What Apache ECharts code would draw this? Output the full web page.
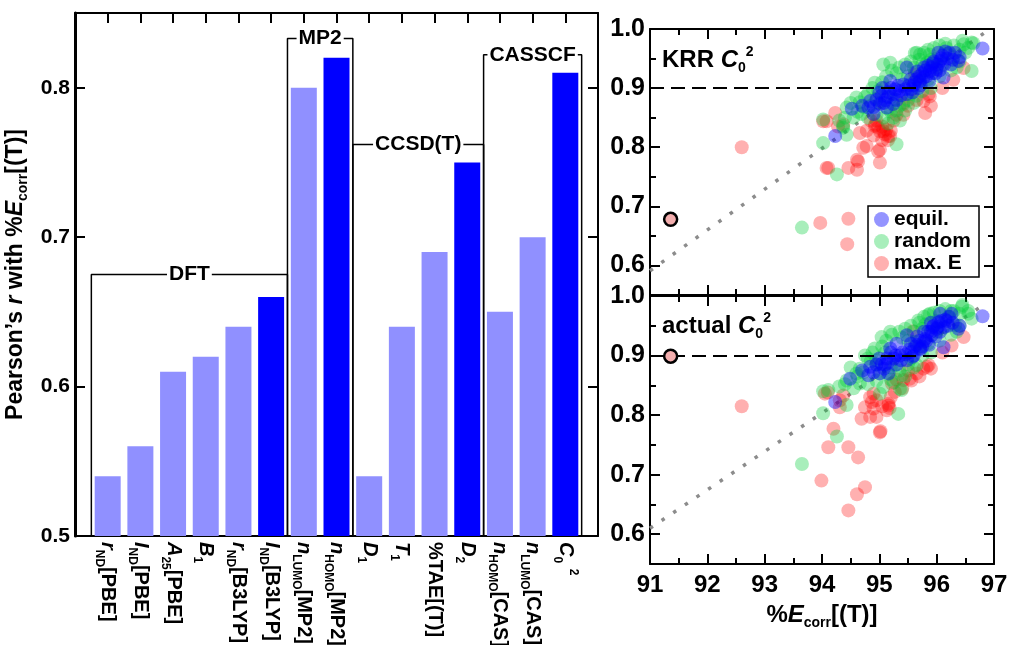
<!DOCTYPE html>
<html>
<head>
<meta charset="utf-8">
<script src="https://cdn.jsdelivr.net/npm/echarts@6/dist/echarts.min.js"></script>
<style>
  html, body { margin: 0; padding: 0; background: #fff; }
  #main { width: 1010px; height: 645px; }
</style>
</head>
<body>
<div id="main"></div>
<script>
var FONT = "'Liberation Sans', Arial, Helvetica, sans-serif";

// ---- left panel: Pearson's r of each descriptor with %Ecorr[(T)]
var barLabels = [
    '{i|r}{s|ND}[PBE]', '{i|I}{s|ND}[PBE]', '{i|A}{s|25}[PBE]', '{i|B}{s|1}',
    '{i|r}{s|ND}[B3LYP]', '{i|I}{s|ND}[B3LYP]', '{i|n}{s|LUMO}[MP2]', '{i|n}{s|HOMO}[MP2]',
    '{i|D}{s|1}', '{i|T}{s|1}', '%TAE[(T)]', '{i|D}{s|2}',
    '{i|n}{s|HOMO}[CAS]', '{i|n}{s|LUMO}[CAS]', '{i|C}{s|0} {p|2}'
];
var barValues = [0.54, 0.56, 0.61, 0.62, 0.64, 0.66, 0.80, 0.82, 0.54, 0.64, 0.69, 0.75, 0.65, 0.70, 0.81];
var bestIdx = [5, 7, 11, 14];          // best descriptor of each method
var barTicks = [0.5, 0.6, 0.7, 0.8];

// method groups (in category slots, slot 0 is empty padding)
var groupNames = ['DFT', 'MP2', 'CCSD(T)', 'CASSCF'];
var groupSpans = [[0.5, 6.5], [6.5, 8.5], [8.5, 12.5], [12.5, 15.5]];
var groupLevels = [0.675, 0.833, 0.762, 0.822];

// ---- right panels: C0^2 vs %Ecorr[(T)]
var corrTicks = [0.6, 0.7, 0.8, 0.9, 1.0];
var corrMinor = [0.65, 0.75, 0.85, 0.95];
var threshold = 0.9;

var krrEquil = [
    [96.80, 0.967], [96.38, 0.946], [96.32, 0.960], [96.03, 0.960], [96.06, 0.946], [96.00, 0.932],
    [95.88, 0.929], [95.77, 0.918], [95.71, 0.912], [96.12, 0.918], [95.56, 0.898], [95.48, 0.890],
    [95.42, 0.906], [95.48, 0.935], [95.33, 0.904], [95.19, 0.912], [95.16, 0.893], [95.04, 0.887],
    [95.01, 0.873], [94.84, 0.878], [94.81, 0.867], [94.52, 0.865], [94.90, 0.856], [95.13, 0.867],
    [95.24, 0.873], [94.23, 0.819], [95.95, 0.945], [95.85, 0.938], [95.92, 0.925], [95.80, 0.930],
    [95.65, 0.915], [95.60, 0.905], [96.10, 0.955], [96.15, 0.962], [95.75, 0.925], [95.68, 0.900],
    [95.35, 0.895], [95.25, 0.890], [95.10, 0.880], [96.25, 0.940], [95.05, 0.900], [96.05, 0.930],
    [94.95, 0.880], [95.00, 0.892], [95.08, 0.875], [95.15, 0.885], [95.20, 0.900], [95.28, 0.898],
    [95.38, 0.888], [95.45, 0.898], [95.52, 0.905], [95.58, 0.893], [95.62, 0.910], [95.70, 0.920],
    [95.72, 0.905], [95.78, 0.935], [95.82, 0.920], [95.87, 0.912], [95.90, 0.935], [95.93, 0.942],
    [95.98, 0.925], [96.02, 0.940], [96.08, 0.950], [96.13, 0.940], [96.18, 0.950], [96.22, 0.960],
    [96.28, 0.948], [96.40, 0.952], [95.55, 0.915], [95.66, 0.928], [95.30, 0.880], [94.90, 0.868],
    [94.70, 0.870]
];
var krrRandom = [
    [95.19, 0.943], [95.07, 0.940], [95.71, 0.957], [95.65, 0.960], [95.88, 0.957], [96.47, 0.974],
    [96.61, 0.977], [96.61, 0.929], [96.29, 0.952], [96.17, 0.968], [95.83, 0.943], [95.62, 0.926],
    [95.65, 0.887], [95.42, 0.873], [95.30, 0.862], [95.27, 0.881], [94.98, 0.895], [94.92, 0.909],
    [94.66, 0.876], [94.60, 0.884], [94.43, 0.867], [94.69, 0.856], [95.36, 0.845], [95.07, 0.850],
    [94.37, 0.833], [94.02, 0.847], [94.37, 0.836], [94.43, 0.821], [94.02, 0.807], [94.26, 0.754],
    [93.65, 0.664], [95.30, 0.805], [96.64, 0.976], [95.62, 0.959], [96.40, 0.965], [96.20, 0.958],
    [96.00, 0.950], [95.90, 0.948], [95.50, 0.920], [95.40, 0.915], [95.55, 0.890], [95.20, 0.885],
    [95.00, 0.875], [94.85, 0.870], [94.75, 0.885], [95.10, 0.900], [95.30, 0.925], [96.35, 0.935],
    [96.50, 0.960], [95.75, 0.940], [95.20, 0.860], [94.55, 0.850], [95.15, 0.840], [96.10, 0.940],
    [94.50, 0.875], [94.62, 0.860], [94.72, 0.868], [94.80, 0.890], [94.88, 0.900], [94.95, 0.882],
    [95.05, 0.910], [95.12, 0.920], [95.22, 0.930], [95.35, 0.935], [95.45, 0.940], [95.55, 0.945],
    [95.60, 0.935], [95.70, 0.948], [95.78, 0.960], [95.85, 0.965], [95.95, 0.968], [96.05, 0.972],
    [96.15, 0.975], [96.30, 0.972], [96.45, 0.980], [96.55, 0.968], [96.40, 0.945], [96.25, 0.930],
    [96.05, 0.920], [95.90, 0.900], [95.75, 0.895], [95.60, 0.875], [95.45, 0.862], [95.35, 0.870],
    [95.25, 0.850], [95.15, 0.865], [94.95, 0.855], [94.80, 0.850], [94.40, 0.850], [94.30, 0.845],
    [95.50, 0.880], [95.70, 0.910], [95.85, 0.915], [96.00, 0.935]
];
var krrMaxE = [
    [92.60, 0.800], [94.23, 0.858], [94.02, 0.844], [94.28, 0.835], [94.11, 0.765], [94.46, 0.765],
    [94.61, 0.779], [94.78, 0.802], [95.01, 0.796], [95.01, 0.774], [95.07, 0.827], [95.19, 0.819],
    [95.62, 0.923], [95.77, 0.878], [95.80, 0.858], [95.88, 0.886], [96.29, 0.914], [96.47, 0.934],
    [95.42, 0.855], [95.42, 0.875], [95.86, 0.890], [94.92, 0.836], [94.98, 0.833], [95.10, 0.822],
    [94.78, 0.828], [94.37, 0.839], [94.93, 0.838], [94.66, 0.824], [94.72, 0.799], [94.98, 0.793],
    [95.16, 0.819], [95.01, 0.827], [94.63, 0.776], [94.61, 0.762], [94.08, 0.765], [93.97, 0.672],
    [94.46, 0.679], [94.44, 0.636], [94.08, 0.844], [95.12, 0.830], [95.05, 0.835], [95.15, 0.812],
    [94.85, 0.845], [95.25, 0.845], [95.30, 0.855], [95.50, 0.870], [95.65, 0.880], [95.90, 0.870],
    [96.10, 0.900], [95.05, 0.812], [94.90, 0.820], [95.20, 0.828], [94.95, 0.845]
];
var actEquil = [
    [96.80, 0.966], [96.38, 0.945], [96.26, 0.970], [96.06, 0.970], [96.03, 0.956], [96.06, 0.940],
    [95.91, 0.934], [95.77, 0.923], [95.71, 0.912], [96.12, 0.914], [95.56, 0.906], [95.48, 0.892],
    [95.36, 0.900], [95.48, 0.934], [95.19, 0.912], [95.13, 0.895], [95.04, 0.886], [95.01, 0.870],
    [94.84, 0.881], [94.81, 0.867], [94.49, 0.861], [95.16, 0.870], [94.23, 0.822], [95.95, 0.950],
    [95.85, 0.940], [95.80, 0.928], [95.65, 0.918], [95.60, 0.900], [96.15, 0.960], [96.00, 0.945],
    [95.75, 0.915], [95.40, 0.905], [95.25, 0.895], [95.10, 0.885], [96.20, 0.950], [95.90, 0.955],
    [95.30, 0.920], [94.95, 0.885], [95.00, 0.895], [95.08, 0.878], [95.15, 0.888], [95.20, 0.905],
    [95.28, 0.900], [95.38, 0.892], [95.45, 0.902], [95.52, 0.910], [95.58, 0.898], [95.62, 0.915],
    [95.70, 0.925], [95.72, 0.910], [95.78, 0.940], [95.82, 0.925], [95.87, 0.918], [95.90, 0.940],
    [95.93, 0.948], [95.98, 0.932], [96.02, 0.948], [96.08, 0.958], [96.13, 0.948], [96.18, 0.958],
    [96.22, 0.965], [96.28, 0.955], [96.40, 0.950], [95.55, 0.920], [95.66, 0.932], [95.30, 0.885],
    [94.90, 0.872], [94.70, 0.875]
];
var actRandom = [
    [95.04, 0.931], [95.19, 0.940], [95.68, 0.959], [95.88, 0.970], [96.44, 0.982], [96.61, 0.962],
    [96.32, 0.951], [95.62, 0.923], [95.65, 0.884], [95.39, 0.867], [95.27, 0.884], [94.95, 0.892],
    [94.92, 0.912], [94.66, 0.878], [94.60, 0.870], [94.43, 0.858], [94.66, 0.853], [95.36, 0.844],
    [95.07, 0.847], [94.02, 0.840], [94.11, 0.842], [94.43, 0.817], [94.02, 0.803], [94.26, 0.764],
    [93.65, 0.718], [95.33, 0.802], [95.39, 0.842], [95.01, 0.836], [96.40, 0.970], [96.20, 0.965],
    [96.00, 0.958], [95.80, 0.952], [95.50, 0.925], [95.40, 0.930], [95.55, 0.895], [95.20, 0.880],
    [95.00, 0.870], [94.85, 0.890], [94.75, 0.900], [95.10, 0.905], [96.35, 0.940], [96.55, 0.975],
    [95.75, 0.945], [95.20, 0.860], [94.55, 0.845], [96.10, 0.945], [96.25, 0.975], [94.50, 0.880],
    [94.62, 0.865], [94.72, 0.872], [94.80, 0.895], [94.88, 0.905], [94.95, 0.885], [95.05, 0.915],
    [95.12, 0.925], [95.22, 0.935], [95.35, 0.940], [95.45, 0.945], [95.55, 0.950], [95.60, 0.940],
    [95.70, 0.955], [95.78, 0.965], [95.85, 0.968], [95.95, 0.972], [96.05, 0.975], [96.15, 0.978],
    [96.30, 0.975], [96.45, 0.985], [96.55, 0.970], [96.40, 0.950], [96.25, 0.935], [96.05, 0.925],
    [95.90, 0.905], [95.75, 0.900], [95.60, 0.880], [95.45, 0.865], [95.35, 0.875], [95.25, 0.855],
    [95.15, 0.868], [94.95, 0.858], [94.80, 0.852], [94.40, 0.852], [94.30, 0.848], [95.50, 0.885],
    [95.70, 0.915], [95.85, 0.920], [96.00, 0.940]
];
var actMaxE = [
    [92.60, 0.815], [94.05, 0.836], [94.31, 0.825], [94.31, 0.813], [94.20, 0.777], [94.11, 0.746],
    [94.46, 0.746], [94.63, 0.729], [93.99, 0.690], [94.75, 0.679], [94.61, 0.667], [94.46, 0.640],
    [94.84, 0.830], [94.75, 0.813], [94.90, 0.811], [94.69, 0.794], [94.84, 0.797], [94.95, 0.797],
    [95.01, 0.771], [95.02, 0.773], [95.16, 0.816], [95.13, 0.808], [95.18, 0.812], [95.27, 0.839],
    [95.53, 0.861], [95.77, 0.878], [95.83, 0.881], [96.26, 0.917], [96.47, 0.931], [95.59, 0.941],
    [95.42, 0.859], [95.22, 0.853], [95.86, 0.884], [95.56, 0.858], [94.90, 0.836], [94.87, 0.822],
    [95.16, 0.819], [94.37, 0.833], [94.10, 0.838], [95.30, 0.860], [95.50, 0.875], [95.65, 0.870],
    [95.90, 0.878], [96.10, 0.905], [95.05, 0.815], [94.95, 0.825], [95.20, 0.830], [95.40, 0.845],
    [95.70, 0.865]
];
var krrRef = [[91.36, 0.678]];
var actRef = [[91.36, 0.899]];
var krrDiag = [[91.0, 0.591], [96.87, 0.996]];
var actDiag = [[91.0, 0.610], [96.80, 0.984]];

var myChart = echarts.init(document.getElementById('main'));

var black = '#000';
var lightBlue = '#9090ff', darkBlue = '#0000ff';
var cEquil = 'rgba(0,0,255,0.42)', cRandom = 'rgba(0,205,55,0.34)', cMaxE = 'rgba(255,0,0,0.31)';

function richSet(size) {
    var sub = Math.round(size * 0.6);
    return {
        i: { fontStyle: 'italic', fontWeight: 'bold', fontSize: size, fontFamily: FONT, color: black },
        s: { fontWeight: 'bold', fontSize: sub, lineHeight: sub + 1, fontFamily: FONT, color: black, verticalAlign: 'bottom' },
        p: { fontWeight: 'bold', fontSize: sub, lineHeight: sub + 1, fontFamily: FONT, color: black, verticalAlign: 'top' }
    };
}

// plain framed axis, ticks pointing into the plot
function frame(o, lineW) {
    var base = {
        axisLine: { show: true, onZero: false, lineStyle: { color: black, width: lineW || 2 } },
        splitLine: { show: false },
        axisTick: { show: true, inside: true, length: 10, lineStyle: { color: black, width: 2 } },
        axisLabel: { show: false }
    };
    return Object.assign(base, o);
}

var catData = [''].concat(barLabels, ['']);
var tickEvery = function (i) { return i > 0 && i < catData.length - 1; };
var minor = { show: true, splitNumber: 2, length: 6, lineStyle: { color: black, width: 2 } };

var xAxes = [
    frame({ type: 'category', gridIndex: 0, data: catData, boundaryGap: false, position: 'bottom',
        axisTick: { show: true, inside: true, length: 10, interval: tickEvery, lineStyle: { color: black, width: 2 } },
        axisLabel: { show: true, interval: 0, rotate: -90, margin: 6, color: black, fontSize: 20,
            fontWeight: 'bold', fontFamily: FONT, lineHeight: 28, rich: richSet(20) } }),
    frame({ type: 'category', gridIndex: 0, data: catData, boundaryGap: false, position: 'top',
        axisTick: { show: true, inside: true, length: 10, interval: tickEvery, lineStyle: { color: black, width: 2 } } }),
    { type: 'value', gridIndex: 0, min: 0, max: catData.length - 1, show: false },
    frame({ type: 'value', gridIndex: 1, min: 91, max: 97, interval: 1, position: 'bottom', minorTick: minor }),
    frame({ type: 'value', gridIndex: 1, min: 91, max: 97, interval: 1, position: 'top', minorTick: minor }),
    frame({ type: 'value', gridIndex: 2, min: 91, max: 97, interval: 1, position: 'bottom', minorTick: minor,
        axisLabel: { show: true, margin: 9, color: black, fontSize: 24, fontWeight: 'bold', fontFamily: FONT },
        name: '%{i|E}{s|corr}[(T)]', nameLocation: 'middle', nameGap: 36,
        nameTextStyle: { color: black, fontSize: 24, fontWeight: 'bold', fontFamily: FONT, lineHeight: 30, rich: richSet(24) } }),
    frame({ type: 'value', gridIndex: 2, min: 91, max: 97, interval: 1, position: 'top', minorTick: minor })
];

function corrAxis(grid, pos, labels) {
    return frame({ type: 'value', gridIndex: grid, min: 0.55, max: 1.0, position: pos,
        axisTick: { show: true, inside: true, length: 10, customValues: corrTicks, lineStyle: { color: black, width: 2 } },
        axisLabel: { show: labels, customValues: corrTicks, margin: 5, color: black, fontSize: 25, fontWeight: 'bold',
            fontFamily: FONT, formatter: function (v) { return v.toFixed(1); } } });
}
function corrMinorAxis(grid, pos) {
    return { type: 'value', gridIndex: grid, min: 0.55, max: 1.0, position: pos,
        axisLine: { show: false }, splitLine: { show: false }, axisLabel: { show: false },
        axisTick: { show: true, inside: true, length: 6, customValues: corrMinor, lineStyle: { color: black, width: 2 } } };
}

var yAxes = [
    frame({ type: 'value', gridIndex: 0, min: 0.5, max: 0.85, position: 'left',
        axisTick: { show: true, inside: true, length: 10, customValues: barTicks, lineStyle: { color: black, width: 2 } },
        axisLabel: { show: true, customValues: barTicks, margin: 5, color: black, fontSize: 21, fontWeight: 'bold',
            fontFamily: FONT, formatter: function (v) { return v.toFixed(1); } },
        name: 'Pearson\u2019s {i|r} with %{i|E}{s|corr}[(T)]', nameLocation: 'middle', nameGap: 40,
        nameTextStyle: { color: black, fontSize: 23, fontWeight: 'bold', fontFamily: FONT, lineHeight: 28, rich: richSet(23) } }, 3),
    frame({ type: 'value', gridIndex: 0, min: 0.5, max: 0.85, position: 'right',
        axisTick: { show: true, inside: true, length: 10, customValues: barTicks, lineStyle: { color: black, width: 2 } } }),
    corrAxis(1, 'left', true), corrAxis(1, 'right', false),
    corrMinorAxis(1, 'left'), corrMinorAxis(1, 'right'),
    corrAxis(2, 'left', true), corrAxis(2, 'right', false),
    corrMinorAxis(2, 'left'), corrMinorAxis(2, 'right')
];

var series = [];

// bars (slot 0 and last slot are empty padding)
series.push({
    type: 'bar', xAxisIndex: 0, yAxisIndex: 0, barWidth: 26, silent: true,
    data: ['-'].concat(barValues.map(function (v, i) {
        return { value: v, itemStyle: { color: bestIdx.indexOf(i) >= 0 ? darkBlue : lightBlue } };
    }), ['-'])
});

// method brackets
groupNames.forEach(function (name, g) {
    var a = groupSpans[g][0], b = groupSpans[g][1], lvl = groupLevels[g];
    series.push({
        type: 'line', xAxisIndex: 2, yAxisIndex: 0, symbol: 'none', silent: true, z: 4,
        lineStyle: { color: black, width: 1.5 },
        data: [[a, barTicks[0]], [a, lvl], [b, lvl], [b, barTicks[0]]]
    });
});
series.push({
    type: 'scatter', xAxisIndex: 2, yAxisIndex: 0, symbolSize: 1, silent: true, z: 6,
    itemStyle: { color: 'rgba(0,0,0,0)', opacity: 1 },
    label: { show: true, position: 'inside', formatter: '{b}', color: black, fontSize: 21, fontWeight: 'bold',
        fontFamily: FONT, backgroundColor: '#fff', padding: [1, 2] },
    data: groupNames.map(function (n, g) {
        return { name: n, value: [(groupSpans[g][0] + groupSpans[g][1]) / 2, groupLevels[g]] };
    })
});

function cloud(name, xi, yi, data, color) {
    return { type: 'scatter', name: name, xAxisIndex: xi, yAxisIndex: yi, data: data,
        symbolSize: 14, itemStyle: { color: color, opacity: 1 }, silent: true, z: 3 };
}

function panel(xi, yi, diag, maxE, random, equil, ref) {
    series.push({
        type: 'line', xAxisIndex: xi, yAxisIndex: yi, data: diag, symbol: 'none', silent: true, z: 2,
        lineStyle: { color: '#8c8c8c', width: 3.5, type: [3.5, 10.5] },
        markLine: { silent: true, symbol: 'none', label: { show: false },
            lineStyle: { color: black, width: 2, type: [14, 7] }, data: [{ yAxis: threshold }] }
    });
    series.push(cloud('max. E', xi, yi, maxE, cMaxE));
    series.push(cloud('random', xi, yi, random, cRandom));
    series.push(cloud('equil.', xi, yi, equil, cEquil));
    series.push({ type: 'scatter', xAxisIndex: xi, yAxisIndex: yi, data: ref, symbolSize: 13, silent: true, z: 5,
        itemStyle: { color: '#f3aeae', borderColor: black, borderWidth: 2.5, opacity: 1 } });
}
panel(3, 2, krrDiag, krrMaxE, krrRandom, krrEquil, krrRef);
panel(5, 6, actDiag, actMaxE, actRandom, actEquil, actRef);

var panelText = { fontSize: 24, fontWeight: 'bold', fontFamily: FONT, color: black, lineHeight: 30, rich: richSet(24) };

var option = {
    animation: false,
    backgroundColor: '#fff',
    textStyle: { fontFamily: FONT, color: black },
    title: [
        { text: 'KRR {i|C}{s|0}{p|2}', left: 662, top: 45, padding: 0, textStyle: panelText },
        { text: 'actual {i|C}{s|0}{p|2}', left: 662, top: 311, padding: 0, textStyle: panelText }
    ],
    legend: {
        data: ['equil.', 'random', 'max. E'], orient: 'vertical', left: 868, top: 206,
        icon: 'circle', itemWidth: 15, itemHeight: 15, itemGap: 1, itemTextGap: 5,
        padding: [3, 8, 3, 6], borderColor: black, borderWidth: 1.5, borderRadius: 0, backgroundColor: '#fff',
        selectedMode: false,
        textStyle: { fontSize: 21, fontWeight: 'bold', fontFamily: FONT, color: black, lineHeight: 21 }
    },
    grid: [
        { left: 75, top: 13, width: 523, height: 523, outerBoundsMode: 'none' },
        { left: 650, top: 29, width: 344, height: 266, outerBoundsMode: 'none' },
        { left: 650, top: 296, width: 344, height: 268, outerBoundsMode: 'none' }
    ],
    xAxis: xAxes,
    yAxis: yAxes,
    series: series
};

myChart.setOption(option);
</script>
</body>
</html>
